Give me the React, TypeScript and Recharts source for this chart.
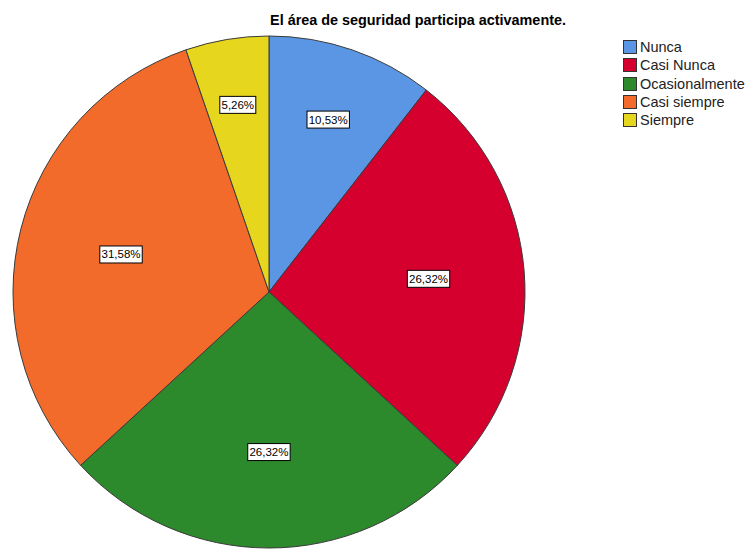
import { Legend, Pie, PieChart } from "recharts";

const categories = ["Nunca", "Casi Nunca", "Ocasionalmente", "Casi siempre", "Siempre"];
const percentages = [10.53, 26.32, 26.32, 31.58, 5.26];
const colors = ["#5A96E3", "#D6002F", "#2C8A2C", "#F26B2B", "#E6D61E"];

const chartData = categories.map((name, i) => ({ name, value: percentages[i], fill: colors[i] }));

const RADIAN = Math.PI / 180;

const formatPct = (v: number) => v.toFixed(2).replace(".", ",") + "%";

const BoxLabel = (props: any) => {
  const { cx, cy, midAngle, outerRadius, percent, value } = props;
  // smaller slices get their label pushed further out, like SPSS does
  const r = outerRadius * (0.77 - 0.55 * percent);
  const x = cx + r * Math.cos(-midAngle * RADIAN);
  const y = cy + r * Math.sin(-midAngle * RADIAN);
  const text = formatPct(value);
  const w = text.length * 6.4 + 4;
  const h = 17;
  return (
    <g>
      <rect x={x - w / 2} y={y - h / 2} width={w} height={h} fill="#fff" stroke="#000" strokeWidth={1} />
      <text x={x} y={y + 4} textAnchor="middle" fontSize={11.5} fontFamily="Liberation Sans, Arial, sans-serif" fill="#000">
        {text}
      </text>
    </g>
  );
};

const LegendBox = () => (
  <div style={{ fontFamily: "Liberation Sans, Arial, sans-serif", fontSize: 14.5, color: "#222" }}>
    {chartData.map((d) => (
      <div key={d.name} style={{ display: "flex", alignItems: "center", height: 18.3, whiteSpace: "nowrap" }}>
        <span
          style={{
            display: "inline-block",
            width: 14,
            height: 14,
            background: d.fill,
            border: "1px solid #333",
            marginRight: 3,
            boxSizing: "border-box",
            flexShrink: 0
          }}
        />
        <span>{d.name}</span>
      </div>
    ))}
  </div>
);

export default function App() {
  return (
    <div style={{ position: "absolute", left: 0, top: 0, width: 748, height: 549, background: "#fff", overflow: "hidden" }}>
      <PieChart width={748} height={549} margin={{ top: 0, right: 0, bottom: 0, left: 0 }}>
        <text
          x={418}
          y={25}
          textAnchor="middle"
          fontSize={14.4}
          fontWeight="bold"
          fontFamily="Liberation Sans, Arial, sans-serif"
          fill="#000"
        >
          El área de seguridad participa activamente.
        </text>
        <Pie
          data={chartData}
          dataKey="value"
          nameKey="name"
          cx={269}
          cy={292}
          outerRadius={256}
          startAngle={90}
          endAngle={-270}
          stroke="#3a3a3a"
          strokeWidth={1}
          label={BoxLabel}
          labelLine={false}
          isAnimationActive={false}
        />
        <Legend
          layout="vertical"
          align="right"
          verticalAlign="top"
          content={<LegendBox />}
          wrapperStyle={{ position: "absolute", left: 623, top: 38, width: 125 }}
        />
      </PieChart>
    </div>
  );
}
